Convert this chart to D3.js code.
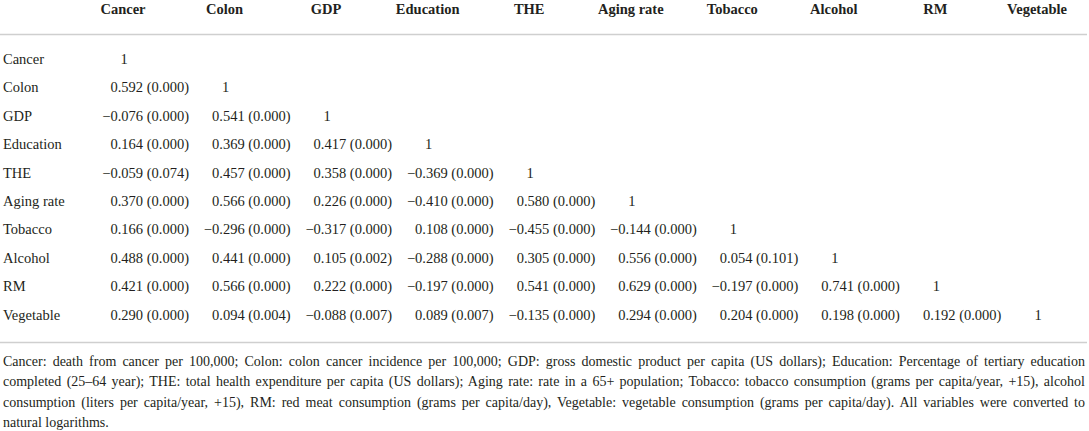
<!DOCTYPE html>
<html>
<head>
<meta charset="utf-8">
<script src="https://cdn.jsdelivr.net/npm/d3@7"></script>
<style>
  html, body { margin: 0; padding: 0; background: #fff; }
  svg { display: block; }
  svg text { font-family: "Liberation Serif", Tinos, "Times New Roman", "DejaVu Serif", serif; fill: #231f20; }
</style>
</head>
<body>
<div id="table-wrapper"></div>
<script>
// Variables (rows and columns)
const variables = ["Cancer", "Colon", "GDP", "Education", "THE", "Aging rate", "Tobacco", "Alcohol", "RM", "Vegetable"];

// Lower triangle correlation coefficients, row by row
const coefs = [
  [],
  [0.592],
  [-0.076, 0.541],
  [0.164, 0.369, 0.417],
  [-0.059, 0.457, 0.358, -0.369],
  [0.370, 0.566, 0.226, -0.410, 0.580],
  [0.166, -0.296, -0.317, 0.108, -0.455, -0.144],
  [0.488, 0.441, 0.105, -0.288, 0.305, 0.556, 0.054],
  [0.421, 0.566, 0.222, -0.197, 0.541, 0.629, -0.197, 0.741],
  [0.290, 0.094, -0.088, 0.089, -0.135, 0.294, 0.204, 0.198, 0.192]
];

// p-values, same layout
const pvals = [
  [],
  [0.000],
  [0.000, 0.000],
  [0.000, 0.000, 0.000],
  [0.074, 0.000, 0.000, 0.000],
  [0.000, 0.000, 0.000, 0.000, 0.000],
  [0.000, 0.000, 0.000, 0.000, 0.000, 0.000],
  [0.000, 0.000, 0.002, 0.000, 0.000, 0.000, 0.101],
  [0.000, 0.000, 0.000, 0.000, 0.000, 0.000, 0.000, 0.000],
  [0.000, 0.004, 0.007, 0.007, 0.000, 0.000, 0.000, 0.000, 0.000]
];

const footnote = [
  "Cancer: death from cancer per 100,000; Colon: colon cancer incidence per 100,000; GDP: gross domestic product per capita (US dollars); Education: Percentage of tertiary education",
  "completed (25–64 year); THE: total health expenditure per capita (US dollars); Aging rate: rate in a 65+ population; Tobacco: tobacco consumption (grams per capita/year, +15), alcohol",
  "consumption (liters per capita/year, +15), RM: red meat consumption (grams per capita/day), Vegetable: vegetable consumption (grams per capita/day). All variables were converted to",
  "natural logarithms."
];

const width = 1089, height = 431;
const fmt = d3.format(".3f");
const fontFamily = '"Liberation Serif", Tinos, "Times New Roman", "DejaVu Serif", serif';

const svg = d3.select("#table-wrapper").append("svg")
  .attr("width", width)
  .attr("height", height);

const xScale = d3.scalePoint()
  .domain(variables)
  .range([123, 1037]);

const yScale = d3.scalePoint()
  .domain(variables)
  .range([64, 319.6]);

const fontSize = 14.5;

// Header
svg.append("g").selectAll("text")
  .data(variables)
  .join("text")
    .attr("x", d => xScale(d))
    .attr("y", 14)
    .attr("text-anchor", "middle")
    .attr("font-family", fontFamily)
    .style("font-size", fontSize + "px")
    .style("font-weight", "bold")
    .text(d => d);

// Rules
svg.append("line")
  .attr("x1", 0).attr("x2", 1087)
  .attr("y1", 34.5).attr("y2", 34.5)
  .style("stroke", "#cfcfcf")
  .style("stroke-width", 1.5);

svg.append("line")
  .attr("x1", 0).attr("x2", 1087)
  .attr("y1", 342.5).attr("y2", 342.5)
  .style("stroke", "#cfcfcf")
  .style("stroke-width", 1.5);

// Row labels
svg.append("g").selectAll("text")
  .data(variables)
  .join("text")
    .attr("x", 3)
    .attr("y", d => yScale(d))
    .attr("font-family", fontFamily)
    .style("font-size", fontSize + "px")
    .text(d => d);

// Cells
const cells = [];
variables.forEach((rowVar, i) => {
  coefs[i].forEach((c, j) => {
    cells.push({ row: rowVar, col: variables[j], text: `${fmt(c)} (${fmt(pvals[i][j])})` });
  });
});

svg.append("g").selectAll("text")
  .data(cells)
  .join("text")
    .attr("x", d => xScale(d.col) + 66)
    .attr("y", d => yScale(d.row))
    .attr("text-anchor", "end")
    .attr("font-family", fontFamily)
    .style("font-size", fontSize + "px")
    .text(d => d.text);

// Diagonal
svg.append("g").selectAll("text")
  .data(variables)
  .join("text")
    .attr("x", d => xScale(d) + 1)
    .attr("y", d => yScale(d))
    .attr("text-anchor", "middle")
    .attr("font-family", fontFamily)
    .style("font-size", fontSize + "px")
    .text("1");

// Footnote, justified except the last line
const noteLines = svg.append("g").selectAll("text")
  .data(footnote)
  .join("text")
    .attr("x", 3)
    .attr("y", (d, i) => 365.5 + i * 20.5)
    .attr("font-family", fontFamily)
    .style("font-size", "14px")
    .text(d => d);

noteLines.each(function(d, i) {
  if (i === footnote.length - 1) return;
  const gaps = d.split(" ").length - 1;
  const len = this.getComputedTextLength();
  const extra = (1085 - 3 - len) / gaps;
  d3.select(this).style("word-spacing", extra + "px");
});
</script>
</body>
</html>
